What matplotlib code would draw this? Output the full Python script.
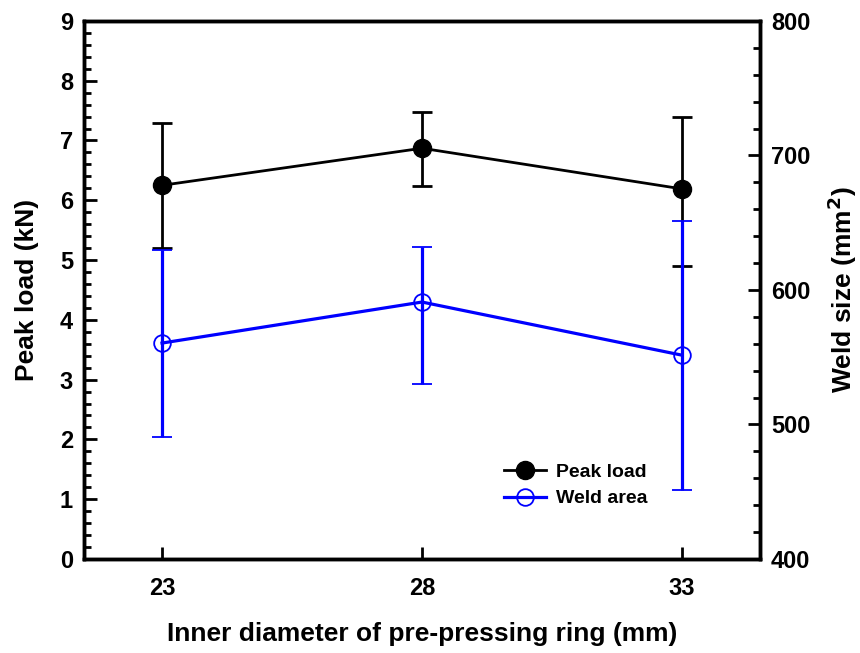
import matplotlib
matplotlib.use('Agg')
import matplotlib.pyplot as plt
from matplotlib.ticker import MultipleLocator
from matplotlib.lines import Line2D

plt.rcParams['font.family'] = ['Liberation Sans', 'DejaVu Sans']
plt.rcParams['font.weight'] = 'bold'
plt.rcParams['mathtext.default'] = 'bf'

# data
diameter = [23, 28, 33]
peak_load = [6.25, 6.87, 6.19]
peak_load_hi = [7.29, 7.48, 7.40]
peak_load_lo = [5.20, 6.24, 4.90]
weld_area = [560.5, 591.0, 551.5]
weld_area_hi = [629.5, 632.0, 651.0]
weld_area_lo = [491.0, 530.0, 451.0]

pl_err = [[v - lo for v, lo in zip(peak_load, peak_load_lo)],
          [hi - v for v, hi in zip(peak_load, peak_load_hi)]]
wa_err = [[v - lo for v, lo in zip(weld_area, weld_area_lo)],
          [hi - v for v, hi in zip(weld_area, weld_area_hi)]]

blue = '#0000ff'

fig = plt.figure(figsize=(8.6, 6.53), dpi=100)
ax = fig.add_axes([0.0977, 0.144, 0.786, 0.824])
ax2 = ax.twinx()

ax.errorbar(diameter, peak_load, yerr=pl_err, color='black', lw=2,
            marker='o', ms=13, mfc='black', mec='black',
            capsize=7.5, capthick=2, elinewidth=2, zorder=3)
ax2.errorbar(diameter, weld_area, yerr=wa_err, color=blue, lw=2.3,
             marker='o', ms=12, mfc='none', mec=blue, mew=1.3,
             capsize=7.5, capthick=2.5, elinewidth=2.3)

ax.set_xlim(21.5, 34.5)
ax.set_ylim(0, 9)
ax2.set_ylim(400, 800)

ax.set_xticks(diameter)
ax.yaxis.set_major_locator(MultipleLocator(1))
ax.yaxis.set_minor_locator(MultipleLocator(0.2))
ax2.yaxis.set_major_locator(MultipleLocator(100))
ax2.yaxis.set_minor_locator(MultipleLocator(20))

for a in (ax, ax2):
    for s in a.spines.values():
        s.set_linewidth(2.5)
ax.tick_params(axis='x', which='major', direction='in', length=9, width=2,
               labelsize=17, pad=13)
ax.tick_params(axis='y', which='major', direction='in', length=9, width=2,
               labelsize=17, pad=8)
ax.tick_params(axis='y', which='minor', direction='in', length=5, width=2)
ax.tick_params(axis='x', which='minor', bottom=False)
ax.tick_params(top=False)
ax2.tick_params(axis='y', which='major', direction='in', length=9, width=2,
                labelsize=17, pad=8)
ax2.tick_params(axis='y', which='minor', direction='in', length=5, width=2)

for lab in ax.get_xticklabels() + ax.get_yticklabels() + ax2.get_yticklabels():
    lab.set_fontweight('bold')

ax.set_xlabel('Inner diameter of pre-pressing ring (mm)', fontsize=19,
              fontweight='bold', labelpad=16)
ax.set_ylabel('Peak load (kN)', fontsize=19, fontweight='bold', labelpad=15)
ax2.set_ylabel('Weld size (mm$^2$)', fontsize=19, fontweight='bold',
               rotation=90, labelpad=11)

handles = [Line2D([], [], color='black', lw=2, marker='o', ms=13, mfc='black'),
           Line2D([], [], color=blue, lw=2.3, marker='o', ms=12, mfc='none',
                  mec=blue, mew=1.3)]
ax.legend(handles, ['Peak load', 'Weld area'], loc='upper left',
          bbox_to_anchor=(0.595, 0.21), frameon=False,
          handlelength=2.2, handletextpad=0.5, labelspacing=0.45,
          prop={'weight': 'bold', 'size': 14})

fig.savefig('out.png', dpi=100)
